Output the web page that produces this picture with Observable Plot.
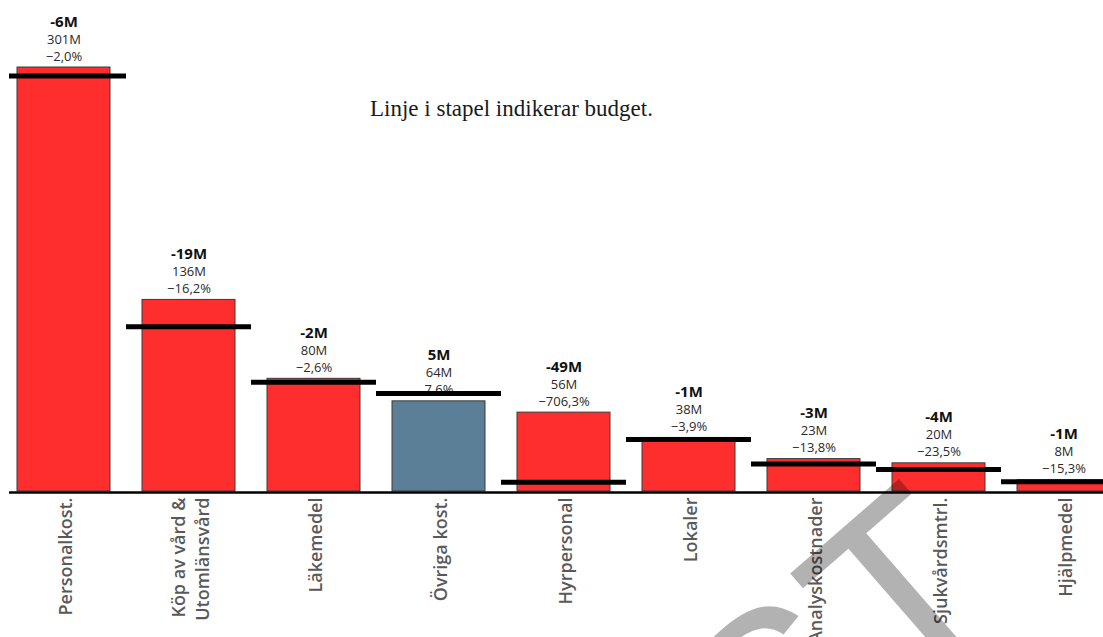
<!DOCTYPE html>
<html><head><meta charset="utf-8">
<script src="https://cdn.jsdelivr.net/npm/d3@7"></script>
<script src="https://cdn.jsdelivr.net/npm/@observablehq/plot@0.6"></script>
<style>html,body{margin:0;padding:0;background:#fff;overflow:hidden;}</style>
</head><body><div id="chart"></div>
<script>
const categories = ["Personalkost.", "Köp av vård &\nUtomlänsvård", "Läkemedel", "Övriga kost.", "Hyrpersonal", "Lokaler", "Analyskostnader", "Sjukvårdsmtrl.", "Hjälpmedel"];
const actual = [301, 136, 80, 64, 56, 38, 23, 20, 8];
const budget = [295, 117, 77.5, 69.5, 6.5, 37, 19.5, 15.7, 7];
const diff = [-6, -19, -2, 5, -49, -1, -3, -4, -1];
const pctLabels = ["−2,0%", "−16,2%", "−2,6%", "7,6%", "−706,3%", "−3,9%", "−13,8%", "−23,5%", "−15,3%"];
const note = "Linje i stapel indikerar budget.";
const watermark = "UTKAST";

const RED = "#ff2e2e", BLUE = "#5a7f96";
const data = categories.map((c, i) => ({
  cat: c, actual: actual[i], budget: budget[i], diff: diff[i],
  diffLabel: `${diff[i]}M`, valueLabel: `${actual[i]}M`, pct: pctLabels[i]
}));

const chart = Plot.plot({
  width: 1103, height: 637,
  marginLeft: 9, marginRight: 0, marginTop: 0, marginBottom: 0,
  style: {fontFamily: "'Open Sans', sans-serif", overflow: "hidden", background: "#fff"},
  x: {domain: categories, range: [-15, 1142], padding: 0.256, axis: null},
  y: {domain: [0, 301], range: [491, 67], axis: null},
  marks: [
    Plot.barY(data, {x: "cat", y: "actual", fill: d => d.diff >= 0 ? BLUE : RED, stroke: "#3a3a3a", strokeWidth: 1}),
    Plot.text(data, {x: "cat", y: "actual", text: "pct", lineAnchor: "bottom", dy: -7, fontSize: 13, fill: "#2a2a2a"}),
    Plot.text(data, {x: "cat", y: "actual", text: "valueLabel", lineAnchor: "bottom", dy: -24, fontSize: 13, fill: "#2a2a2a"}),
    Plot.text(data, {x: "cat", y: "actual", text: "diffLabel", lineAnchor: "bottom", dy: -41, fontSize: 15, fontWeight: "bold", fill: "#111"}),
    Plot.tickY(data, {x: "cat", y: "budget", stroke: "#000", strokeWidth: 5, insetLeft: -16, insetRight: -16, clip: true}),
    Plot.ruleY([0], {stroke: "#000", strokeWidth: 2.5, dy: 1}),
    Plot.text(data, {x: "cat", y: () => 0, text: "cat", rotate: -90, textAnchor: "end", lineAnchor: "middle", lineHeight: 1.38, dy: 6, fontSize: 18, fontWeight: 600, fill: "#595959"}),
    Plot.text([note], {frameAnchor: "top-left", text: d => d, dx: 502, dy: 115, textAnchor: "middle", lineAnchor: "bottom", fontSize: 23, fontFamily: "'Liberation Serif', serif", fill: "#1a1a1a"}),
    Plot.text([watermark], {frameAnchor: "top-left", text: d => d, dx: 1009, dy: 607, rotate: -41, textAnchor: "end", lineAnchor: "bottom", fontSize: 255, fontFamily: "'Liberation Sans', Arial, sans-serif", fill: "#000", fillOpacity: 0.3})
  ]
});
document.getElementById("chart").appendChild(chart);
</script>
</body></html>
